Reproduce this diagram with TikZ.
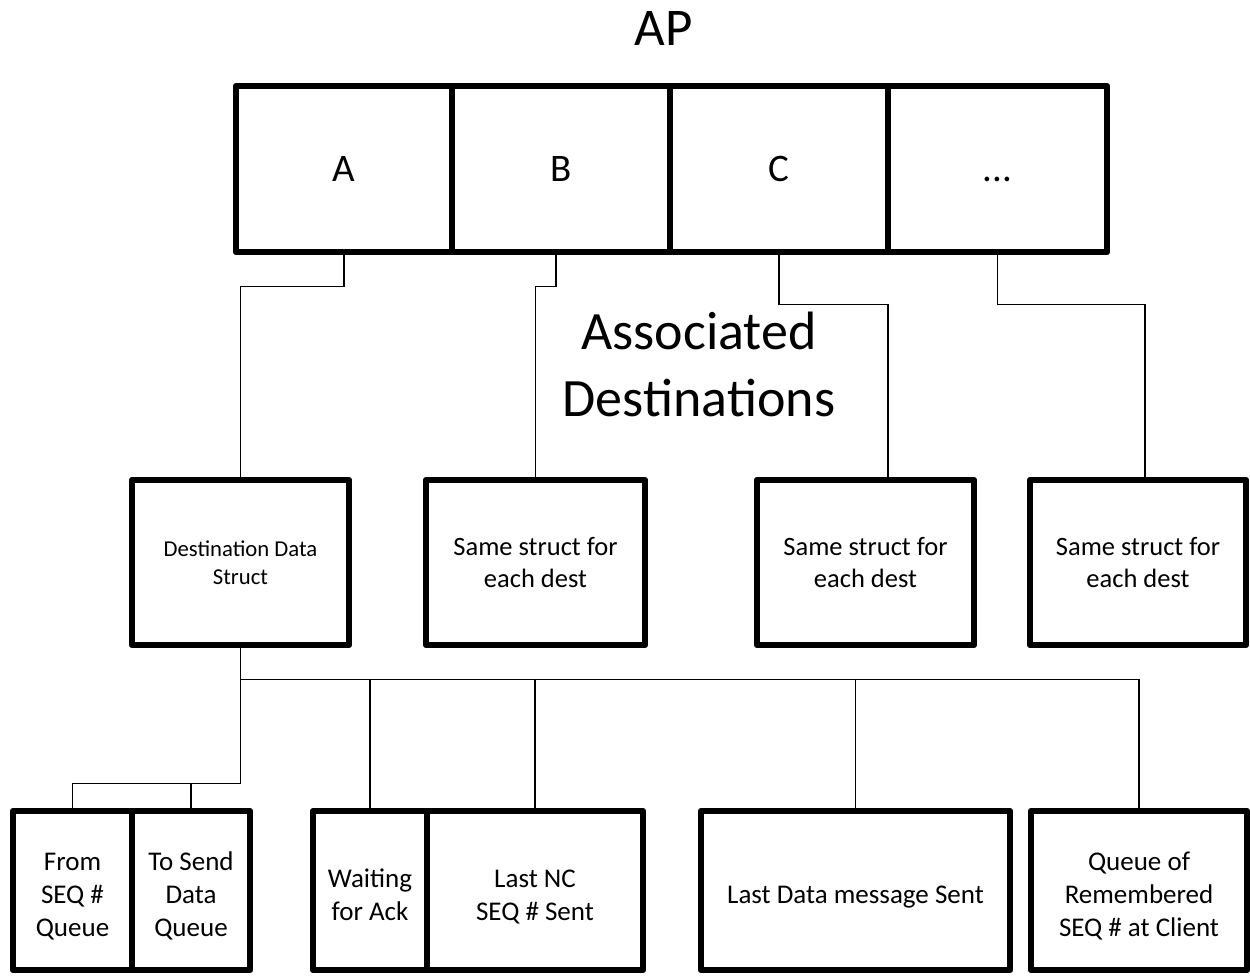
\documentclass[tikz,border=0pt]{standalone}
\usepackage{fontspec}
\setmainfont{Carlito}
% fixed height for the first line of a field label
\newcommand\fieldstrut{\rule{0pt}{28pt}}
\begin{document}
\begin{tikzpicture}[x=1pt,y=-1pt,
  box/.style={draw, line width=6.5pt, line join=round, inner sep=0pt, align=center},
  cell/.style={box, minimum width=#1, minimum height=166pt, font=\fontsize{39}{47}\selectfont},
  dest/.style={box, minimum width=#1, minimum height=165pt, font=\fontsize{26.5}{32}\selectfont},
  field/.style={box, minimum width=#1, minimum height=159pt},
  fieldtext/.style={inner sep=0pt, align=center, anchor=north, font=\fontsize{27}{33}\selectfont},
  link/.style={draw, line width=1.3pt}]
\useasboundingbox (0,0) rectangle (1250,976);

% title
\node[anchor=base, font=\fontsize{53}{64}\selectfont] (ap) at (664,46) {AP};

% table of associated destinations
\node[cell=216pt] (A) at (344,169) {A};
\node[cell=218pt] (B) at (561,169) {B};
\node[cell=218pt] (C) at (779,169) {C};
\node[cell=219pt] (D) at (997.5,169) {\vphantom{A}...};

\node[align=center, font=\fontsize{54}{67}\selectfont] (assoc) at (699,364.5) {Associated\\Destinations};

% per-destination structures
\node[dest=217pt, font=\fontsize{22.7}{28}\selectfont] (m1) at (240.5,562.5) {Destination Data\\Struct};
\node[dest=219pt] (m2) at (535.5,562.5) {Same struct for\\each dest};
\node[dest=217pt] (m3) at (865.5,562.5) {Same struct for\\each dest};
\node[dest=216pt] (m4) at (1138,562.5) {Same struct for\\each dest};

% fields of the destination structure
\node[field=119pt] (b1) at (72.5,890.5) {};
\node[field=118pt] (b2) at (191,890.5) {};
\node[field=114pt] (b3) at (370,890.5) {};
\node[field=216pt] (b4) at (535,890.5) {};
\node[field=309pt] (b5) at (855.5,890.5) {};
\node[field=216pt] (b6) at (1139,890.5) {};

\path (b1.north) ++(0,35) node[fieldtext] (b1t) {\fieldstrut From\\SEQ \#\\Queue};
\path (b2.north) ++(0,35) node[fieldtext] (b2t) {\fieldstrut To Send\\Data\\Queue};
\path (b3.north) ++(0,52) node[fieldtext] (b3t) {\fieldstrut Waiting\\for Ack};
\path (b4.north) ++(0,52) node[fieldtext] (b4t) {\fieldstrut Last NC\\SEQ \# Sent};
\path (b5.north) ++(0,68) node[fieldtext] (b5t) {\fieldstrut Last Data message Sent};
\path (b6.north) ++(0,35) node[fieldtext] (b6t) {\fieldstrut Queue of\\Remembered\\SEQ \# at Client};

% table entries to their structures
\draw[link] (A.south) -- ++(0,31) -| (m1.north);
\draw[link] ([xshift=-5pt]B.south) -- ++(0,31) -| (m2.north);
\draw[link] (C.south) -- ++(0,49) -| ([xshift=22.5pt]m3.north);
\draw[link] (D.south) -- ++(0,49) -| ([xshift=7pt]m4.north);

% structure to its fields
\draw[link] (m1.south) -- ++(0,31) coordinate (bus) -| (b6.north);
\draw[link] (b3.north |- bus) -- (b3.north);
\draw[link] (b4.north |- bus) -- (b4.north);
\draw[link] (b5.north |- bus) -- (b5.north);
\draw[link] (bus) -- ++(0,104) coordinate (split) -| (b1.north);
\draw[link] (b2.north |- split) -- (b2.north);
\end{tikzpicture}
\end{document}
